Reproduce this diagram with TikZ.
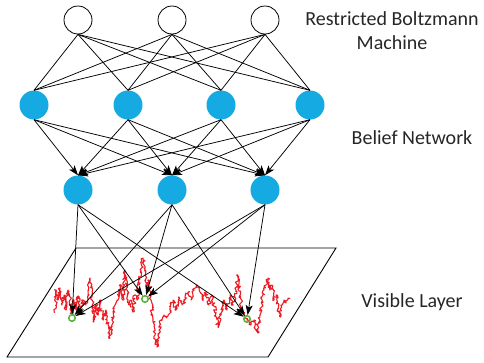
\documentclass[tikz,border=0pt]{standalone}
\usepackage{fontspec}
\setmainfont{Carlito}
\usetikzlibrary{arrows.meta,decorations.pathmorphing}
\definecolor{nodeblue}{RGB}{22,170,226}
\definecolor{sigred}{RGB}{237,28,36}
\definecolor{markgreen}{RGB}{90,180,60}
\tikzset{
  rbm/.style={circle,draw=black,line width=0.8pt,fill=white,minimum size=28pt,inner sep=0pt},
  bnode/.style={circle,fill=nodeblue,minimum size=29pt,inner sep=0pt},
  vmark/.style={circle,draw=markgreen,line width=1.6pt,minimum size=6.5pt,inner sep=0pt},
  link/.style={line width=0.75pt,draw=black},
  arr/.style={link,-{Stealth[length=10pt,width=7pt,inset=2.5pt]}},
  lbl/.style={font=\fontsize{20}{24}\selectfont,text=black!85,align=center},
  plane/.style={line width=0.9pt,draw=black}
}
\begin{document}
\begin{tikzpicture}[x=1pt,y=-1pt]
\useasboundingbox (0,0) rectangle (484,362);
% nodes
\node[rbm] (t1) at (78,20) {};
\node[rbm] (t2) at (172,20) {};
\node[rbm] (t3) at (265,20) {};
\node[bnode] (m1) at (34,105) {};
\node[bnode] (m2) at (128,105) {};
\node[bnode] (m3) at (221,105) {};
\node[bnode] (m4) at (310,105) {};
\node[bnode] (b1) at (78,190) {};
\node[bnode] (b2) at (172,190) {};
\node[bnode] (b3) at (265,190) {};
% visible layer plane
\coordinate (p1) at (76,248);
\coordinate (p2) at (336,248);
\coordinate (p3) at (268,357);
\coordinate (p4) at (7,357);
\draw[plane] (p1) -- (p2) -- (p3) -- (p4) -- cycle;
% signal
\pgfmathsetseed{3}
\draw[sigred,line width=1.1pt,line join=round,decorate,decoration={random steps,segment length=1.3pt,amplitude=1.8pt}]
(55,312)--(56,290)--(58,300)--(60,288)--(62,305)--(64,295)--(66,310)--(68,290)--(70,300)--(72,315)--(74,300)--(76,310)--(78,296)--(80,312)--(83,300)--(86,305)--(88,290)--(90,278)--(92,300)--(94,322)--(96,305)--(98,315)--(100,300)--(103,320)--(106,310)--(108,325)--(110,338)--(112,320)--(115,305)--(118,300)--(121,285)--(123,300)--(125,270)--(127,290)--(129,305)--(131,300)--(133,312)--(135,295)--(137,300)--(139,285)--(141,270)--(143,258)--(145,275)--(147,290)--(149,280)--(151,300)--(153,320)--(155,335)--(157,347)--(159,330)--(161,320)--(164,315)--(167,318)--(170,310)--(173,300)--(176,310)--(179,297)--(182,305)--(185,300)--(188,292)--(191,300)--(194,290)--(197,285)--(200,292)--(203,300)--(206,292)--(209,305)--(212,295)--(215,310)--(218,327)--(221,315)--(224,300)--(227,310)--(230,295)--(233,305)--(236,290)--(238,275)--(240,295)--(242,310)--(245,318)--(248,320)--(251,325)--(254,320)--(256,330)--(258,333)--(260,315)--(262,300)--(264,290)--(266,285)--(268,278)--(270,290)--(272,285)--(274,300)--(276,295)--(278,310)--(280,317)--(282,305)--(284,300)--(286,303)--(288,298)--(290,298);
\node[vmark] (v1) at (72,318) {};
\node[vmark] (v2) at (145,299) {};
\node[vmark] (v3) at (247,319) {};
% RBM links
\foreach \t in {t1,t2,t3}{
  \foreach \m in {m1,m2,m3,m4}{
    \draw[link] (\t.south) -- (\m.north);
  }
}
% belief network links
\foreach \m in {m1,m2,m3,m4}{
  \foreach \b in {b1,b2,b3}{
    \draw[arr] (\m.south) -- (\b.north);
  }
}
% to visible layer
\foreach \b in {b1,b2,b3}{
  \foreach \v in {v1,v2,v3}{
    \draw[arr] (\b.south) -- (\v);
  }
}
% labels
\node[lbl] (l1) at (392,31) {Restricted Boltzmann\\Machine};
\node[lbl] (l2) at (412,138) {Belief Network};
\node[lbl] (l3) at (412,302) {Visible Layer};
\end{tikzpicture}
\end{document}
